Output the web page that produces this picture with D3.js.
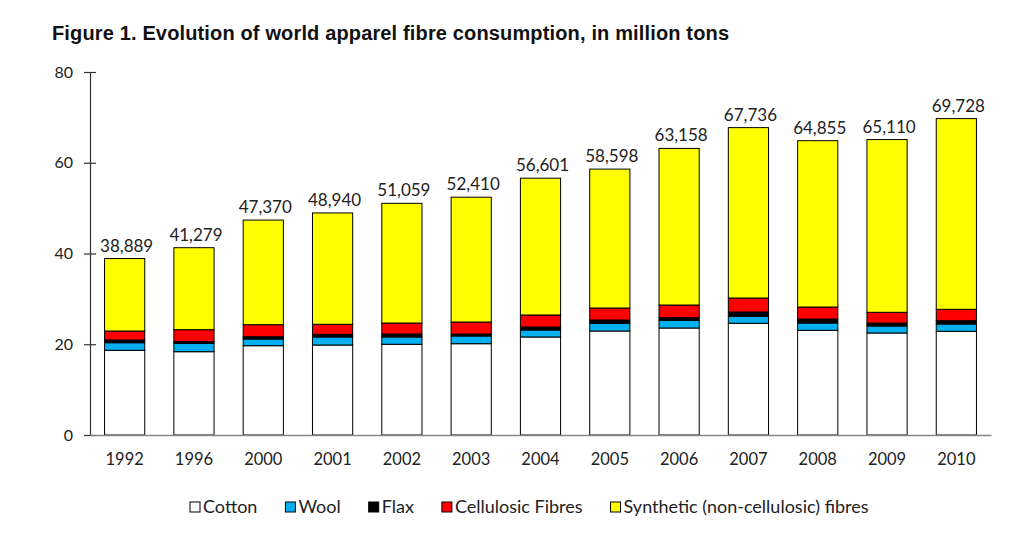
<!DOCTYPE html>
<html>
<head>
<meta charset="utf-8">
<script src="https://cdn.jsdelivr.net/npm/d3@7"></script>
<style>
  html, body { margin: 0; padding: 0; background: #fff; }
  svg { display: block; }
</style>
</head>
<body>
<svg id="chart" width="1024" height="554"></svg>
<script>
const years = ["1992","1996","2000","2001","2002","2003","2004","2005","2006","2007","2008","2009","2010"];
const cotton    = [18.67, 18.36, 19.68, 19.83, 19.99, 20.12, 21.60, 22.92, 23.58, 24.62, 23.07, 22.48, 22.85];
const wool      = [1.67, 1.85, 1.48, 1.77, 1.61, 1.70, 1.54, 1.70, 1.70, 1.54, 1.61, 1.54, 1.61];
const flax      = [0.60, 0.35, 0.50, 0.59, 0.66, 0.44, 0.66, 0.72, 0.57, 0.95, 0.88, 0.66, 0.73];
const cellulosic= [1.98, 2.65, 2.65, 2.21, 2.42, 2.64, 2.65, 2.65, 2.80, 3.08, 2.65, 2.36, 2.51];
const totals    = [38.889, 41.279, 47.370, 48.940, 51.059, 52.410, 56.601, 58.598, 63.158, 67.736, 64.855, 65.110, 69.728];
const totalLabels = ["38,889","41,279","47,370","48,940","51,059","52,410","56,601","58,598","63,158","67,736","64,855","65,110","69,728"];
const synthetic = [15.97, 18.07, 23.06, 24.54, 26.38, 27.51, 30.15, 30.61, 34.51, 37.55, 36.65, 38.07, 42.03];
const yTicks = [0, 20, 40, 60, 80];
const seriesNames = ["Cotton", "Wool", "Flax", "Cellulosic Fibres", "Synthetic (non-cellulosic) fibres"];
const seriesKeys = ["cotton", "wool", "flax", "cellulosic", "synthetic"];
const colors = ["#ffffff", "#00b0f0", "#000000", "#ff0000", "#ffff00"];

const rows = years.map((yr, i) => ({
  year: yr, cotton: cotton[i], wool: wool[i], flax: flax[i],
  cellulosic: cellulosic[i], synthetic: synthetic[i], total: totals[i], label: totalLabels[i]
}));

const svg = d3.select("#chart");
const plotLeft = 90, plotRight = 991, plotTop = 72, plotBottom = 435;

const x = d3.scaleBand().domain(years).range([plotLeft, plotRight]).paddingInner(0.42).paddingOuter(0.21);
const y = d3.scaleLinear().domain([0, 80]).range([plotBottom, plotTop]);

const stacked = d3.stack().keys(seriesKeys)(rows);

const labelFont = "Lato, 'Open Sans', sans-serif";

// Title
svg.append("text")
  .attr("x", 52).attr("y", 40)
  .attr("font-family", "'Liberation Sans', Arial, sans-serif")
  .attr("font-weight", "bold").attr("font-size", 20)
  .attr("fill", "#111")
  .attr("textLength", 677).attr("lengthAdjust", "spacing")
  .text("Figure 1. Evolution of world apparel fibre consumption, in million tons");

// Bars
const g = svg.append("g");
stacked.forEach((s, si) => {
  g.append("g").selectAll("rect").data(s).join("rect")
    .attr("x", d => x(d.data.year))
    .attr("width", x.bandwidth())
    .attr("y", d => y(d[1]))
    .attr("height", d => y(d[0]) - y(d[1]))
    .attr("fill", colors[si])
    .attr("stroke", "#000")
    .attr("stroke-width", 1);
});

// Total labels
svg.append("g").selectAll("text").data(rows).join("text")
  .attr("x", d => x(d.year) + x.bandwidth() / 2 + 2)
  .attr("y", d => y(d.total) - 7)
  .attr("text-anchor", "middle")
  .attr("font-family", labelFont).attr("font-size", 17)
  .attr("fill", "#222")
  .text(d => d.label);

// Y axis
const yAxis = d3.axisLeft(y).tickValues(yTicks).tickSize(0).tickPadding(17);
const ya = svg.append("g").attr("transform", `translate(${plotLeft},0)`).call(yAxis);
ya.select(".domain").attr("stroke", "#333").attr("stroke-width", 1.2);
ya.selectAll(".tick text").attr("font-family", labelFont).attr("font-size", 16).attr("fill", "#222");
ya.selectAll(".tick").append("line").attr("x1", -6).attr("x2", 6).attr("stroke", "#333").attr("stroke-width", 1.2);

// X axis
const xAxis = d3.axisBottom(x).tickSize(0).tickPadding(18);
const xa = svg.append("g").attr("transform", `translate(0,${plotBottom})`).call(xAxis);
xa.select(".domain").attr("stroke", "#888").attr("stroke-width", 1.5);
xa.selectAll(".tick text").attr("font-family", labelFont).attr("font-size", 16.5).attr("fill", "#222");

// Legend
const legend = svg.append("g");
let lx = 190;
const ly = 507;
seriesNames.forEach((name, i) => {
  legend.append("rect")
    .attr("x", lx).attr("y", ly - 5).attr("width", 10).attr("height", 10)
    .attr("fill", colors[i]).attr("stroke", "#000").attr("stroke-width", 1);
  const t = legend.append("text")
    .attr("x", lx + 13).attr("y", ly + 6)
    .attr("font-family", labelFont).attr("font-size", 18)
    .attr("fill", "#222")
    .text(name);
  lx += 13 + t.node().getComputedTextLength() + 28;
});
</script>
</body>
</html>
